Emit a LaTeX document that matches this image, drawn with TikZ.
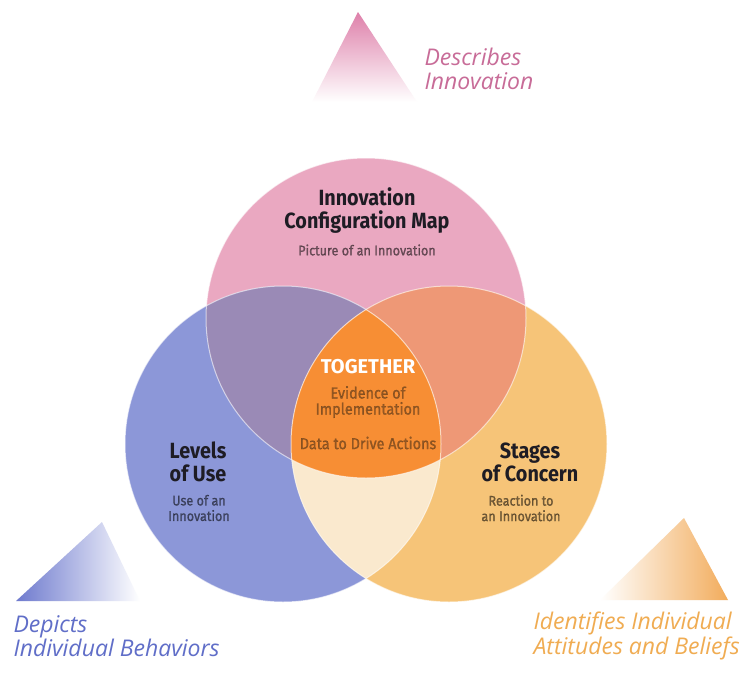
\documentclass[tikz,border=0pt]{standalone}
\usepackage{fontspec}
\setmainfont{Fira Sans}
\newfontfamily\condfont[FakeStretch=0.9]{Fira Sans}
\newfontfamily\subfont[FakeStretch=0.9,FakeBold=1.2]{Fira Sans}
\newfontfamily\labelfont{Open Sans}
\definecolor{pinkc}{RGB}{234,168,193}
\definecolor{bluec}{RGB}{140,151,216}
\definecolor{orangec}{RGB}{246,196,120}
\definecolor{purplec}{RGB}{154,138,182}
\definecolor{salmonc}{RGB}{238,152,118}
\definecolor{creamc}{RGB}{250,233,206}
\definecolor{tripc}{RGB}{247,142,52}
\definecolor{pinktri}{RGB}{222,128,170}
\definecolor{bluetri}{RGB}{110,122,206}
\definecolor{orangetri}{RGB}{242,172,92}
\definecolor{pinktxt}{RGB}{200,108,152}
\definecolor{bluetxt}{RGB}{96,110,200}
\definecolor{orangetxt}{RGB}{240,172,82}
\definecolor{titletxt}{RGB}{30,28,36}
\tikzset{
  title/.style={align=center, text=titletxt, font=\condfont\bfseries\fontsize{22}{23}\selectfont},
  subtitle/.style={align=center, text=black, text opacity=0.5, font=\subfont\fontsize{14}{15.5}\selectfont},
  centretext/.style={align=center, text=black!70!brown, text opacity=0.5, font=\subfont\fontsize{16}{16}\selectfont},
  legend/.style={align=left, anchor=west, font=\labelfont\itshape\fontsize{23}{24.5}\selectfont},
  rim/.style={white, opacity=0.6, line width=1pt}
}
\begin{document}
\begin{tikzpicture}[x=1pt,y=-1pt]
\useasboundingbox (0,0) rectangle (742,694);
\fill[white] (0,0) rectangle (742,694);

% circle centres
\coordinate (P) at (366,318);
\coordinate (B) at (283,444);
\coordinate (O) at (449,444);

% shaded triangles
\shade[top color=pinktri, bottom color=white] (358,12) -- (417,102) -- (312,102) -- cycle;
\shade[left color=bluetri, right color=white] (102,522) -- (140,601) -- (16,601) -- cycle;
\shade[left color=white, right color=orangetri] (684,518) -- (728,600) -- (600,600) -- cycle;

% base discs
\fill[pinkc] (P) circle[radius=160pt];
\fill[bluec] (B) circle[radius=158pt];
\fill[orangec] (O) circle[radius=158pt];
% pairwise overlaps
\begin{scope}
  \clip (P) circle[radius=160pt];
  \fill[purplec] (B) circle[radius=158pt];
  \fill[salmonc] (O) circle[radius=158pt];
\end{scope}
\begin{scope}
  \clip (B) circle[radius=158pt];
  \fill[creamc] (O) circle[radius=158pt];
\end{scope}
% triple overlap
\begin{scope}
  \clip (P) circle[radius=160pt];
  \clip (B) circle[radius=158pt];
  \fill[tripc] (O) circle[radius=158pt];
\end{scope}
% thin light rims
\draw[rim] (P) circle[radius=160pt];
\draw[rim] (B) circle[radius=158pt];
\draw[rim] (O) circle[radius=158pt];

% circle texts
\node[title] (icm) at (367,211) {Innovation\\Configuration Map};
\node[subtitle] (icmsub) at (367,250) {Picture of an Innovation};

\node[font=\bfseries\fontsize{20}{22}\selectfont, text=white] (tog) at (368,367) {TOGETHER};
\node[centretext] (evid) at (368,402) {Evidence of\\Implementation};
\node[centretext] (data) at (368,443) {Data to Drive Actions};

\node[title] (lou) at (198,462) {Levels\\of Use};
\node[subtitle] (lousub) at (199,508) {Use of an\\Innovation};

\node[title] (soc) at (530,462) {Stages\\of Concern};
\node[subtitle] (socsub) at (521,508) {Reaction to\\an Innovation};

% side legends
\node[legend, text=pinktxt] (desc) at (421,69) {Describes\\Innovation};
\node[legend, text=bluetxt] (depi) at (10,636) {Depicts\\Individual Behaviors};
\node[legend, text=orangetxt] (iden) at (530,636) {Identifies Individual\\Attitudes and Beliefs};
\end{tikzpicture}
\end{document}
